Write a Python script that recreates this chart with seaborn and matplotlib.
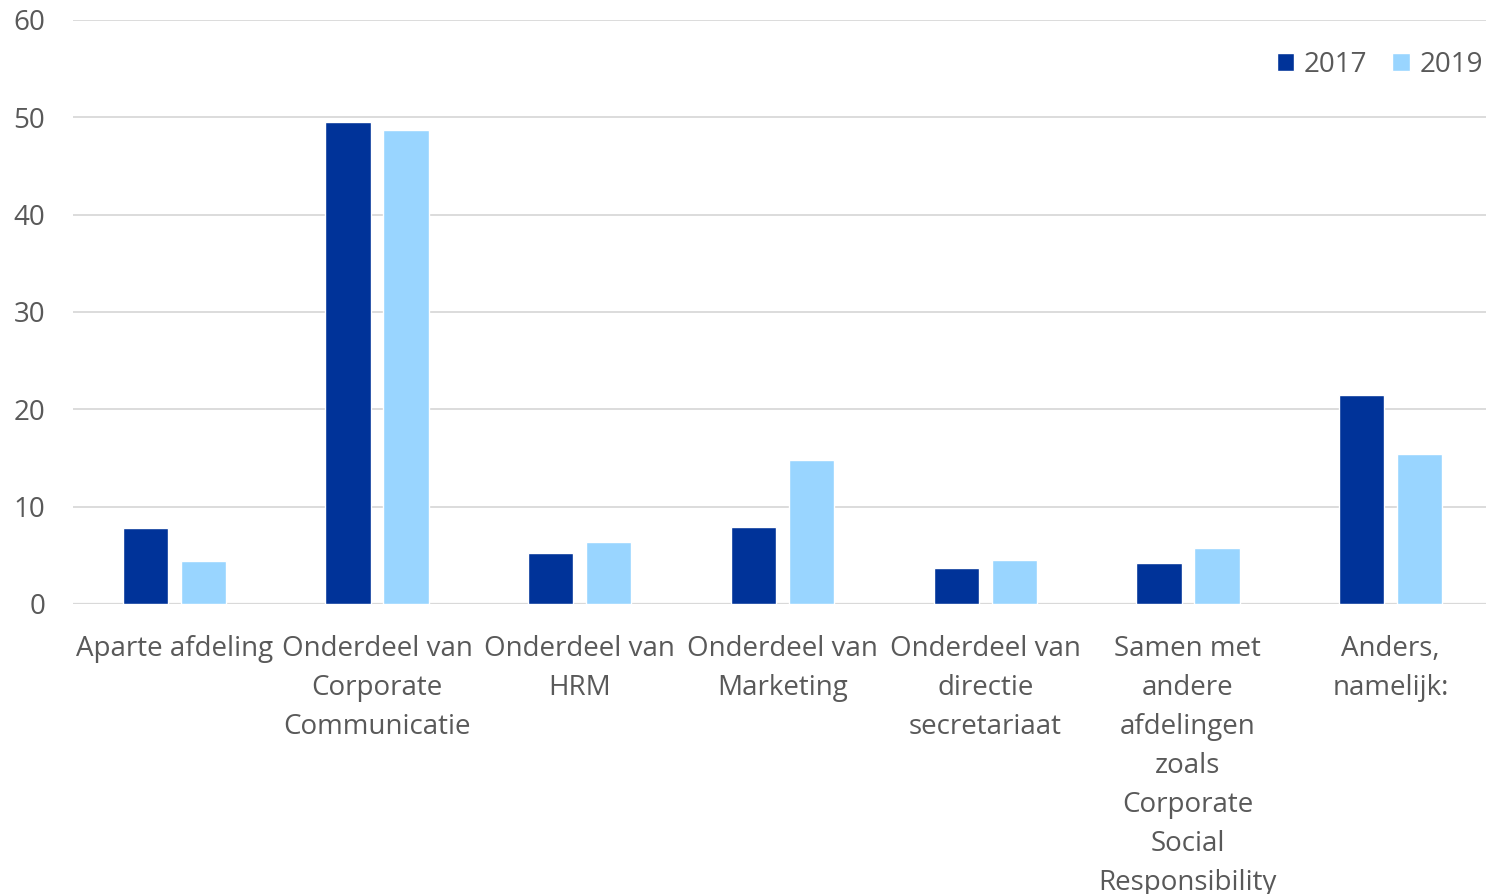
import matplotlib
matplotlib.use("Agg")
import matplotlib.pyplot as plt
import seaborn as sns
import pandas as pd

categories = [
    "Aparte afdeling",
    "Onderdeel van\nCorporate\nCommunicatie",
    "Onderdeel van\nHRM",
    "Onderdeel van\nMarketing",
    "Onderdeel van\ndirectie\nsecretariaat",
    "Samen met\nandere\nafdelingen\nzoals\nCorporate\nSocial\nResponsibility",
    "Anders,\nnamelijk:",
]
values_2017 = [7.8, 49.5, 5.2, 7.9, 3.7, 4.2, 21.5]
values_2019 = [4.4, 48.7, 6.4, 14.8, 4.5, 5.8, 15.4]
years = ["2017", "2019"]
yticks = [0, 10, 20, 30, 40, 50, 60]

df = pd.DataFrame({
    "categorie": categories * 2,
    "jaar": [years[0]] * len(categories) + [years[1]] * len(categories),
    "waarde": values_2017 + values_2019,
})

sns.set_theme(style="white")
plt.rcParams["font.family"] = ["Open Sans", "DejaVu Sans"]

text_color = "#595959"
grid_color = "#D9D9D9"
palette = {"2017": "#003399", "2019": "#99D5FF"}

fig = plt.figure(figsize=(14.86, 8.94), dpi=100)
# plot area runs a few pixels past the right edge of the canvas
ax = fig.add_axes([73 / 1486, 1 - 604 / 894, 1419 / 1486, (604 - 20) / 894])

sns.barplot(
    data=df, x="categorie", y="waarde", hue="jaar", order=categories,
    hue_order=years, palette=palette, width=0.572, gap=0.22,
    saturation=1, ax=ax, zorder=3,
)

ax.set_ylim(0, 60)
ax.set_yticks(yticks)
ax.set_xlim(-0.5, len(categories) - 0.5)
ax.yaxis.grid(True, color=grid_color, linewidth=1.3, zorder=0)
ax.set_axisbelow(True)
for s in ax.spines.values():
    s.set_visible(False)
ax.axhline(0, color=grid_color, linewidth=1.6, zorder=1)

ax.set_xlabel("")
ax.set_ylabel("")
ax.tick_params(axis="y", length=0, pad=20, labelsize=20, labelcolor=text_color)
ax.tick_params(axis="x", length=0, pad=22, labelsize=20, labelcolor=text_color)
for lbl in ax.get_xticklabels():
    lbl.set_linespacing(1.53)

# legend anchored in figure coordinates at the top right
leg = ax.legend(
    loc="upper right", bbox_to_anchor=(1.0 + 8 / 1486, 1 - 40 / 894),
    bbox_transform=fig.transFigure, ncol=2, frameon=False,
    fontsize=20, handlelength=0.62, handleheight=0.62, handletextpad=0.35,
    columnspacing=0.9, borderaxespad=0.0,
)
for t in leg.get_texts():
    t.set_color(text_color)

fig.savefig("out.png", dpi=100)
